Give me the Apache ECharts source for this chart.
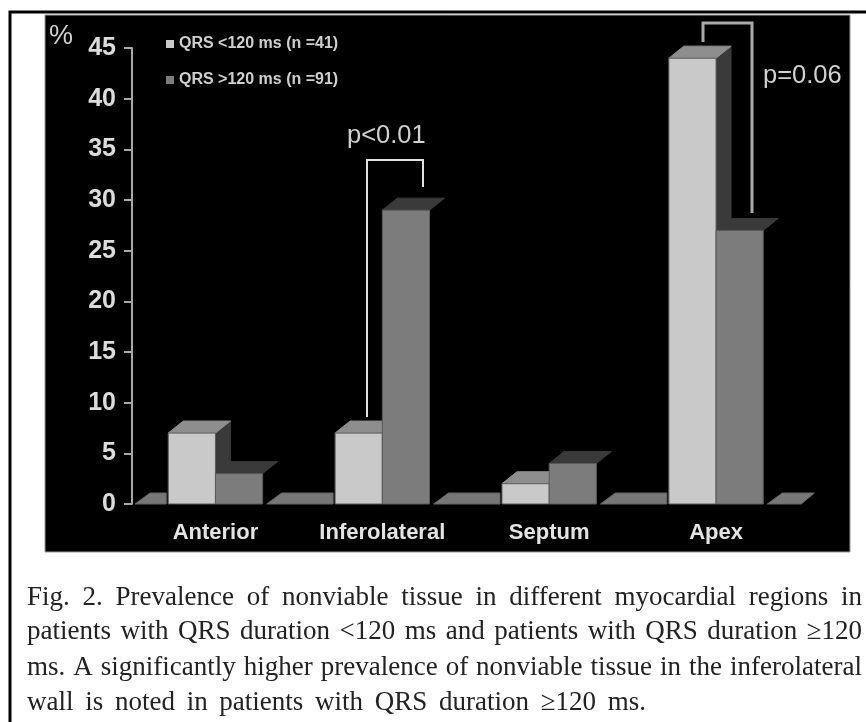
<!DOCTYPE html>
<html><head><meta charset="utf-8">
<style>html,body{margin:0;padding:0;background:#fff}#chart{width:866px;height:722px;filter:blur(0.6px)}</style>
<script src="https://cdn.jsdelivr.net/npm/echarts@6/dist/echarts.min.js"></script>
</head><body><div id="chart"></div>
<script>
const categories = ['Anterior', 'Inferolateral', 'Septum', 'Apex'];
const shortQrs = [7, 7, 2, 44];
const longQrs = [3, 29, 4, 27];
const floorGaps = [0, 1, 2, 3, 4];
const yTicks = { min: 0, max: 45, step: 5 };
const seriesNames = ['QRS <120 ms (n =41)', 'QRS >120 ms (n =91)'];
const captionLines = [
  'Fig. 2. Prevalence of nonviable tissue in different myocardial regions in',
  'patients with QRS duration <120 ms and patients with QRS duration \u2265120',
  'ms. A significantly higher prevalence of nonviable tissue in the inferolateral',
  'wall is noted in patients with QRS duration \u2265120 ms.'
];

const DX = 15, DY = 12, WIDTH_RATIO = 0.283;
const serif = '"Liberation Serif", serif';
const sans = '"Liberation Sans", Arial, sans-serif';

function poly(points, fill, stroke) {
  return { type: 'polygon', shape: { points }, style: { fill, stroke: stroke || fill, lineWidth: 1 } };
}
function box(x0, x1, yTop, yBase, front, top, side) {
  const kids = [];
  kids.push(poly([[x1, yBase], [x1 + DX, yBase - DY], [x1 + DX, yTop - DY], [x1, yTop]], side));
  kids.push(poly([[x0, yTop], [x0 + DX, yTop - DY], [x1 + DX, yTop - DY], [x1, yTop]], top));
  kids.push(poly([[x0, yBase], [x0, yTop], [x1, yTop], [x1, yBase]], front, '#5a5a5a'));
  return { type: 'group', children: kids };
}
function barRenderer(sign, front, top, side) {
  return function (params, api) {
    const idx = api.value(0);
    const tip = api.coord([idx, api.value(1)]);
    const base = api.coord([idx, 0]);
    const w = api.size([1, 0])[0] * WIDTH_RATIO;
    const x0 = sign < 0 ? tip[0] - w : tip[0];
    return box(x0, x0 + w, tip[1], base[1], front, top, side);
  };
}
function floorRenderer(params, api) {
  const gap = api.value(0);
  const band = api.size([1, 0])[0];
  const w = band * WIDTH_RATIO;
  const y = api.coord([0, 0])[1];
  const first = api.coord([0, 0])[0];
  const left = gap === 0 ? first - band / 2 + 3 : first + (gap - 1) * band + w + 4;
  const right = gap === categories.length ? first + (gap - 1) * band + w + 38 : first + gap * band - w - 2;
  const clip = gap === categories.length ? right + DX - 2 : right;
  return poly([[left, y], [left + DX, y - DY + 1], [clip, y - DY + 1], [right, y]], '#777', '#666');
}

// Justified caption, placed word by word
const measure = document.createElement('canvas').getContext('2d');
const captionFont = '27px ' + serif;
measure.font = captionFont;
const captionBaselines = [611, 645, 681, 716];
const captionEnds = [862, 862, 862, 646];
const captionEls = [];
captionLines.forEach((line, i) => {
  const words = line.split(' ');
  const total = words.reduce((s, w) => s + measure.measureText(w).width, 0);
  const gap = (captionEnds[i] - 27 - total) / (words.length - 1);
  let x = 27;
  words.forEach(word => {
    captionEls.push({ type: 'text', x, y: captionBaselines[i], z: 1,
      style: { text: word, font: captionFont, fill: '#222', textBaseline: 'bottom', textVerticalAlign: 'bottom' } });
    x += measure.measureText(word).width + gap;
  });
});

const chart = echarts.init(document.getElementById('chart'), null, { renderer: 'canvas' });
chart.setOption({
  animation: false,
  backgroundColor: '#fff',
  grid: { left: 132, right: 66.5, top: 48, bottom: 218 },
  legend: {
    left: 161, top: 31, orient: 'vertical', itemWidth: 8, itemHeight: 8, itemGap: 20,
    data: seriesNames.map(name => ({ name, icon: 'rect' })),
    textStyle: { color: '#cfcfcf', fontFamily: sans, fontWeight: 'bold', fontSize: 16 },
    selectedMode: false
  },
  xAxis: {
    type: 'category', data: categories,
    axisLine: { show: false }, axisTick: { show: false },
    axisLabel: { color: '#e4e4e4', fontFamily: sans, fontWeight: 'bold', fontSize: 22, margin: 18 }
  },
  yAxis: {
    type: 'value', min: yTicks.min, max: yTicks.max, interval: yTicks.step,
    splitLine: { show: false },
    axisLine: { show: true, lineStyle: { color: '#a8a8a8', width: 2 } },
    axisTick: { show: true, length: 8, lineStyle: { color: '#a8a8a8', width: 2 } },
    axisLabel: { color: '#dcdcdc', fontFamily: sans, fontWeight: 'bold', fontSize: 25, margin: 16 }
  },
  graphic: [
    { type: 'rect', z: 0, shape: { x: 45, y: 15, width: 805, height: 537 }, style: { fill: '#000', stroke: '#999', lineWidth: 1 } },
    { type: 'polyline', z: 1, shape: { points: [[10, 722], [10, 12], [866, 12]] }, style: { fill: 'none', stroke: '#000', lineWidth: 3 } },
    { type: 'polyline', z: 5, shape: { points: [[367, 417], [367, 160], [423, 160], [423, 187]] }, style: { fill: 'none', stroke: '#e0e0e0', lineWidth: 2 } },
    { type: 'polyline', z: 5, shape: { points: [[703, 42], [703, 23], [752, 23], [752, 213]] }, style: { fill: 'none', stroke: '#aaa', lineWidth: 3 } },
    { type: 'text', z: 5, x: 49, y: 23, style: { text: '%', font: '27px ' + sans, fill: '#d0d0d0' } },
    { type: 'text', z: 5, x: 347, y: 123, style: { text: 'p<0.01', font: '25.5px ' + sans, fill: '#d0d0d0' } },
    { type: 'text', z: 5, x: 763, y: 63, style: { text: 'p=0.06', font: '25.5px ' + sans, fill: '#d0d0d0' } },
    ...captionEls
  ],
  series: [
    { type: 'custom', name: 'floor', renderItem: floorRenderer, clip: false, z: 2,
      encode: { x: 0, y: 1 }, data: floorGaps.map(g => [g, 0]) },
    { type: 'custom', name: seriesNames[0], renderItem: barRenderer(-1, '#c9c9c9', '#8e8e8e', '#3a3a3a'), clip: false, z: 3,
      itemStyle: { color: '#c9c9c9' }, encode: { x: 0, y: 1 }, data: shortQrs.map((v, i) => [i, v]) },
    { type: 'custom', name: seriesNames[1], renderItem: barRenderer(1, '#7c7c7c', '#3a3a3a', '#000'), clip: false, z: 4,
      itemStyle: { color: '#7c7c7c' }, encode: { x: 0, y: 1 }, data: longQrs.map((v, i) => [i, v]) }
  ]
});
</script></body></html>
